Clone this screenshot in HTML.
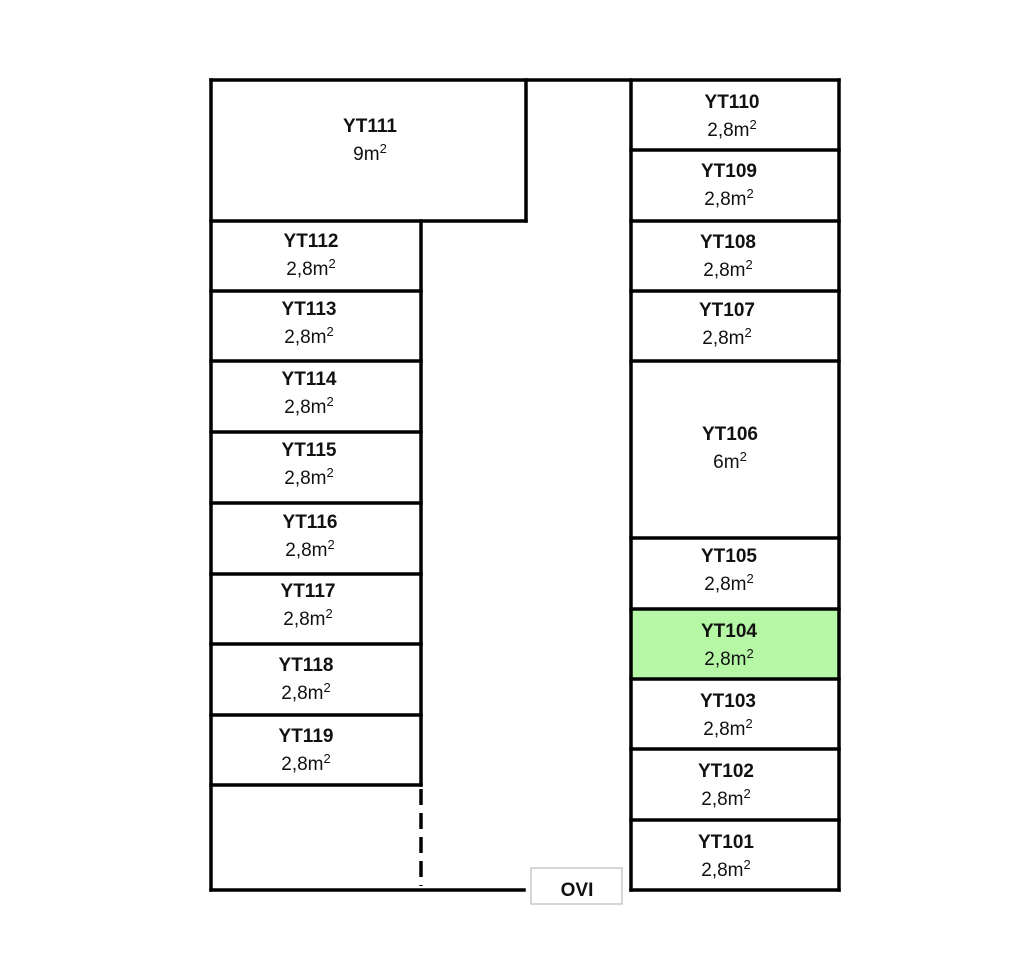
<!DOCTYPE html>
<html><head><meta charset="utf-8"><style>
html,body{margin:0;padding:0;background:#fff;}
svg{display:block;}
text{font-family:"Liberation Sans",Arial,sans-serif;fill:#111;}
.l{font-weight:bold;font-size:19px;}
.a{font-size:19px;}
.s{font-size:13px;}
</style></head><body>
<svg width="1025" height="963" viewBox="0 0 1025 963" xmlns="http://www.w3.org/2000/svg">
<rect x="631" y="609" width="208" height="70" fill="#b6f7a6"/>
<g stroke="#000" stroke-width="3.5" fill="none" stroke-linecap="square">
<line x1="211" y1="80" x2="839" y2="80"/>
<line x1="211" y1="80" x2="211" y2="890"/>
<line x1="211" y1="890" x2="524" y2="890"/>
<line x1="526" y1="80" x2="526" y2="221"/>
<line x1="211" y1="221" x2="526" y2="221"/>
<line x1="421" y1="221" x2="421" y2="785"/>
<line x1="211" y1="291" x2="421" y2="291"/>
<line x1="211" y1="361" x2="421" y2="361"/>
<line x1="211" y1="432" x2="421" y2="432"/>
<line x1="211" y1="503" x2="421" y2="503"/>
<line x1="211" y1="574" x2="421" y2="574"/>
<line x1="211" y1="644" x2="421" y2="644"/>
<line x1="211" y1="715" x2="421" y2="715"/>
<line x1="211" y1="785" x2="421" y2="785"/>
<line x1="631" y1="80" x2="631" y2="890"/>
<line x1="839" y1="80" x2="839" y2="890"/>
<line x1="631" y1="890" x2="839" y2="890"/>
<line x1="631" y1="150" x2="839" y2="150"/>
<line x1="631" y1="221" x2="839" y2="221"/>
<line x1="631" y1="291" x2="839" y2="291"/>
<line x1="631" y1="361" x2="839" y2="361"/>
<line x1="631" y1="538" x2="839" y2="538"/>
<line x1="631" y1="609" x2="839" y2="609"/>
<line x1="631" y1="679" x2="839" y2="679"/>
<line x1="631" y1="749" x2="839" y2="749"/>
<line x1="631" y1="820" x2="839" y2="820"/>
</g>
<line x1="421" y1="789" x2="421" y2="886" stroke="#000" stroke-width="3.5" stroke-dasharray="16,8"/>
<rect x="531" y="868" width="91" height="36" fill="#fff" stroke="#c8c8c8" stroke-width="1.5"/>
<text class="l" x="577" y="896" text-anchor="middle">OVI</text>
<g text-anchor="middle">
<text class="l" x="370" y="132">YT111</text><text class="a" x="370" y="160">9m<tspan class="s" dy="-7">2</tspan></text>
<text class="l" x="311" y="247">YT112</text><text class="a" x="311" y="275">2,8m<tspan class="s" dy="-7">2</tspan></text>
<text class="l" x="309" y="315">YT113</text><text class="a" x="309" y="343">2,8m<tspan class="s" dy="-7">2</tspan></text>
<text class="l" x="309" y="385">YT114</text><text class="a" x="309" y="413">2,8m<tspan class="s" dy="-7">2</tspan></text>
<text class="l" x="309" y="456">YT115</text><text class="a" x="309" y="484">2,8m<tspan class="s" dy="-7">2</tspan></text>
<text class="l" x="310" y="528">YT116</text><text class="a" x="310" y="556">2,8m<tspan class="s" dy="-7">2</tspan></text>
<text class="l" x="308" y="597">YT117</text><text class="a" x="308" y="625">2,8m<tspan class="s" dy="-7">2</tspan></text>
<text class="l" x="306" y="671">YT118</text><text class="a" x="306" y="699">2,8m<tspan class="s" dy="-7">2</tspan></text>
<text class="l" x="306" y="742">YT119</text><text class="a" x="306" y="770">2,8m<tspan class="s" dy="-7">2</tspan></text>
<text class="l" x="732" y="108">YT110</text><text class="a" x="732" y="136">2,8m<tspan class="s" dy="-7">2</tspan></text>
<text class="l" x="729" y="177">YT109</text><text class="a" x="729" y="205">2,8m<tspan class="s" dy="-7">2</tspan></text>
<text class="l" x="728" y="248">YT108</text><text class="a" x="728" y="276">2,8m<tspan class="s" dy="-7">2</tspan></text>
<text class="l" x="727" y="316">YT107</text><text class="a" x="727" y="344">2,8m<tspan class="s" dy="-7">2</tspan></text>
<text class="l" x="730" y="440">YT106</text><text class="a" x="730" y="468">6m<tspan class="s" dy="-7">2</tspan></text>
<text class="l" x="729" y="562">YT105</text><text class="a" x="729" y="590">2,8m<tspan class="s" dy="-7">2</tspan></text>
<text class="l" x="729" y="637">YT104</text><text class="a" x="729" y="665">2,8m<tspan class="s" dy="-7">2</tspan></text>
<text class="l" x="728" y="707">YT103</text><text class="a" x="728" y="735">2,8m<tspan class="s" dy="-7">2</tspan></text>
<text class="l" x="726" y="777">YT102</text><text class="a" x="726" y="805">2,8m<tspan class="s" dy="-7">2</tspan></text>
<text class="l" x="726" y="848">YT101</text><text class="a" x="726" y="876">2,8m<tspan class="s" dy="-7">2</tspan></text>
</g>
</svg>
</body></html>
